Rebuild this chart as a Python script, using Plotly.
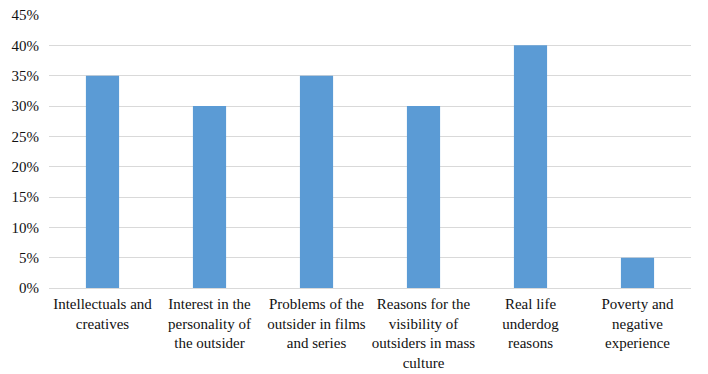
import plotly.graph_objects as go

categories = [
    "Intellectuals and<br>creatives",
    "Interest in the<br>personality of<br>the outsider",
    "Problems of the<br>outsider in films<br>and series",
    "Reasons for the<br>visibility of<br>outsiders in mass<br>culture",
    "Real life<br>underdog<br>reasons",
    "Poverty and<br>negative<br>experience",
]
values = [0.35, 0.30, 0.35, 0.30, 0.40, 0.05]

fig = go.Figure(go.Bar(x=categories, y=values, marker_color="#5b9bd5", marker_line_width=0))

font = dict(family="Liberation Serif, Times New Roman, serif", size=15, color="#111111")
fig.update_layout(
    width=708, height=374,
    margin=dict(l=49, r=17, t=15, b=86),
    paper_bgcolor="white", plot_bgcolor="white",
    bargap=0.69,
    font=font,
    showlegend=False,
)
fig.update_xaxes(showgrid=False, showline=False, ticks="", tickangle=0, tickfont=font,
                 automargin=False, ticklabelstandoff=5)
fig.update_yaxes(range=[0, 0.45], dtick=0.05, tickformat=".0%", showgrid=True,
                 gridcolor="#d9d9d9", gridwidth=1, zeroline=True, zerolinecolor="#d9d9d9",
                 zerolinewidth=1, ticks="", tickfont=font, automargin=False, ticklabelstandoff=9)

fig.write_html("out.html", config={"displayModeBar": False},
               post_script="document.body.style.margin='0';document.body.style.padding='0';")
